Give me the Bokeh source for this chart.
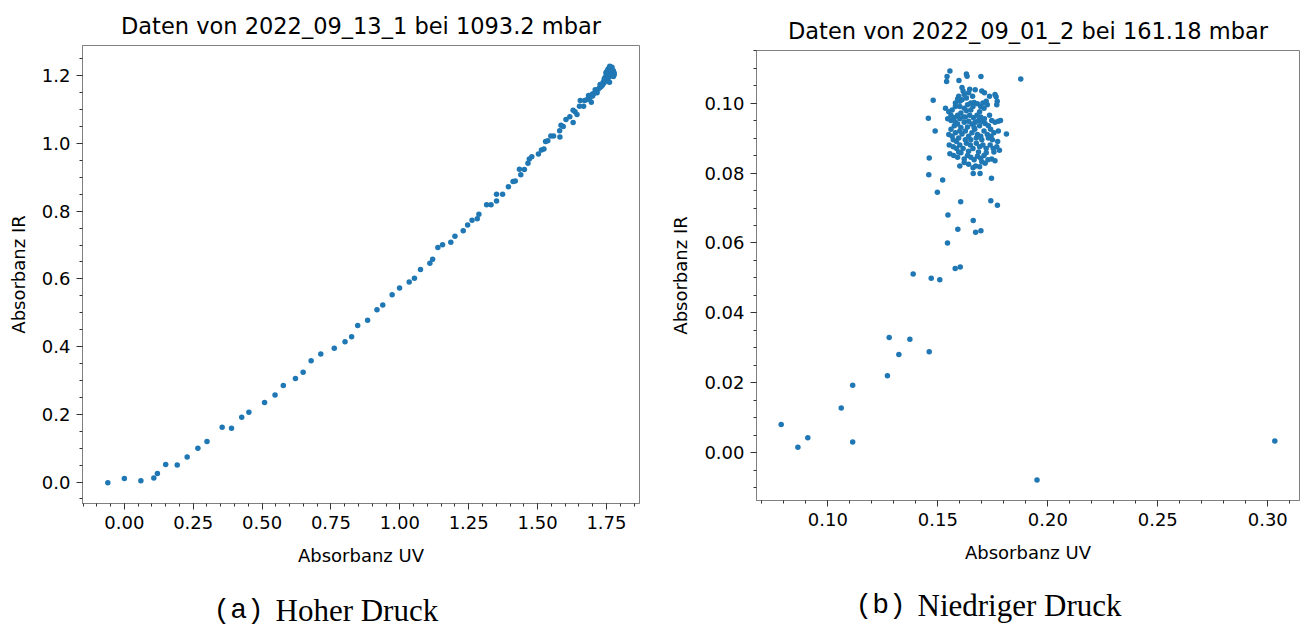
from bokeh.plotting import figure
from bokeh.layouts import row, column
from bokeh.models import FixedTicker, PrintfTickFormatter, Range1d
from bokeh.core.properties import value
from bokeh.embed import file_html
from bokeh.resources import INLINE

# ---------------- data: high pressure (left) ----------------
hoch_uv = [-0.060, 0.000, 0.060, 0.107, 0.120, 0.150, 0.192, 0.228, 0.267, 0.300,
           0.355, 0.389, 0.426, 0.452, 0.509, 0.547, 0.577, 0.621, 0.649, 0.678,
           0.713, 0.762, 0.801, 0.825, 0.847, 0.883, 0.917, 0.938, 0.972, 0.999,
           1.034, 1.053, 1.075, 1.109, 1.119, 1.138, 1.155, 1.185, 1.200, 1.230,
           1.246, 1.262, 1.281, 1.287, 1.315, 1.331, 1.351, 1.351, 1.373, 1.394,
           1.411, 1.419, 1.434, 1.439, 1.452, 1.465, 1.470, 1.479, 1.503, 1.514,
           1.523, 1.529, 1.537, 1.548, 1.558, 1.581, 1.580, 1.585, 1.593, 1.603,
           1.617, 1.629, 1.629, 1.636, 1.643, 1.655, 1.652, 1.667, 1.671, 1.685,
           1.695, 1.699, 1.709, 1.716, 1.727, 1.738, 1.743, 1.750, 1.757, 1.764,
           1.771, 1.778, 1.761,
           1.745, 1.750, 1.755, 1.760, 1.765, 1.768, 1.760, 1.755, 1.770, 1.772,
           1.775, 1.765, 1.758, 1.750, 1.745, 1.740, 1.735, 1.730, 1.725, 1.720,
           1.712, 1.705, 1.700, 1.690, 1.680, 1.770, 1.762, 1.775, 1.778, 1.752,
           1.748, 1.742]
hoch_ir = [-0.002, 0.010, 0.004, 0.012, 0.025, 0.052, 0.050, 0.074, 0.100, 0.120,
           0.162, 0.159, 0.191, 0.206, 0.235, 0.257, 0.285, 0.306, 0.324, 0.358,
           0.378, 0.395, 0.414, 0.429, 0.462, 0.478, 0.509, 0.523, 0.553, 0.573,
           0.591, 0.602, 0.628, 0.646, 0.658, 0.693, 0.701, 0.708, 0.726, 0.742,
           0.759, 0.773, 0.778, 0.791, 0.819, 0.819, 0.830, 0.850, 0.850, 0.872,
           0.888, 0.889, 0.924, 0.908, 0.923, 0.942, 0.954, 0.961, 0.969, 0.981,
           0.984, 1.006, 1.008, 1.022, 1.022, 1.019, 1.038, 1.054, 1.050, 1.071,
           1.079, 1.062, 1.098, 1.094, 1.086, 1.127, 1.110, 1.110, 1.127, 1.142,
           1.122, 1.146, 1.159, 1.150, 1.174, 1.181, 1.191, 1.211, 1.221, 1.226,
           1.206, 1.203, 1.181,
           1.195, 1.200, 1.205, 1.210, 1.215, 1.220, 1.222, 1.218, 1.212, 1.205,
           1.198, 1.200, 1.195, 1.188, 1.183, 1.178, 1.172, 1.168, 1.165, 1.160,
           1.152, 1.148, 1.140, 1.135, 1.130, 1.225, 1.228, 1.215, 1.208, 1.212,
           1.208, 1.190]

# ---------------- data: low pressure (right) ----------------
niedrig_uv = [0.0788, 0.0864, 0.0909, 0.1061, 0.1113, 0.1113, 0.1271, 0.1279, 0.1323, 0.1373,
              0.1461, 0.1951, 0.3032, 0.1388, 0.1470, 0.1509, 0.1579, 0.1602, 0.1544, 0.1591,
              0.1672, 0.1696, 0.1661, 0.1546, 0.1604, 0.1741, 0.1771, 0.1498, 0.1522, 0.1459,
              0.1461, 0.1744, 0.1661, 0.1692, 0.1457, 0.1479, 0.1488, 0.1877, 0.1812, 0.1555,
              0.1542, 0.1540, 0.1630, 0.1633, 0.1696, 0.1596,
              0.1535, 0.1550, 0.1565, 0.1580, 0.1545, 0.1560, 0.1575, 0.1590, 0.1605, 0.1620,
              0.1635, 0.1650, 0.1665, 0.1680, 0.1695, 0.1710, 0.1725, 0.1600, 0.1610, 0.1595,
              0.1620, 0.1640, 0.1645, 0.1630, 0.1658, 0.1670, 0.1700, 0.1712, 0.1735, 0.1760,
              0.1765, 0.1770, 0.1768, 0.1610, 0.1615, 0.1560, 0.1575, 0.1590, 0.1605, 0.1620,
              0.1640, 0.1655, 0.1670, 0.1685, 0.1700, 0.1715, 0.1730, 0.1745, 0.1760, 0.1775,
              0.1785, 0.1550, 0.1565, 0.1580, 0.1595, 0.1610, 0.1625, 0.1640, 0.1655, 0.1668,
              0.1680, 0.1695, 0.1710, 0.1725, 0.1740, 0.1755, 0.1552, 0.1570, 0.1585, 0.1600,
              0.1615, 0.1630, 0.1648, 0.1660, 0.1675, 0.1690, 0.1705, 0.1720, 0.1738, 0.1752,
              0.1768, 0.1780, 0.1555, 0.1572, 0.1590, 0.1605, 0.1620, 0.1635, 0.1650, 0.1665,
              0.1680, 0.1695, 0.1710, 0.1728, 0.1745, 0.1760, 0.1600, 0.1640, 0.1660, 0.1672,
              0.1690, 0.1715, 0.1560, 0.1580, 0.1600, 0.1625, 0.1645, 0.1662, 0.1678, 0.1695,
              0.1712, 0.1735, 0.1580, 0.1590, 0.1600, 0.1630, 0.1650, 0.1690, 0.1705, 0.1720,
              0.1585, 0.1595, 0.1625, 0.1650, 0.1675, 0.1700, 0.1730, 0.1748, 0.1600, 0.1635,
              0.1665, 0.1690, 0.1640, 0.1685, 0.1720, 0.1755, 0.1615, 0.1570, 0.1660, 0.1620,
              0.1700, 0.1742, 0.1772, 0.1775]
niedrig_ir = [0.0081, 0.0016, 0.0043, 0.0128, 0.0193, 0.0031, 0.0220, 0.0330, 0.0281, 0.0325,
              0.0289, -0.0078, 0.0034, 0.0511, 0.0499, 0.0495, 0.0527, 0.0531, 0.0600, 0.0639,
              0.0631, 0.0635, 0.0664, 0.0680, 0.0718, 0.0721, 0.0708, 0.0745, 0.0780, 0.0795,
              0.0843, 0.0785, 0.0799, 0.0799, 0.0957, 0.1008, 0.0920, 0.1069, 0.0912, 0.1092,
              0.1076, 0.1062, 0.1083, 0.1077, 0.1076, 0.1065,
              0.0985, 0.0975, 0.0980, 0.0990, 0.0955, 0.0950, 0.0958, 0.0965, 0.0972, 0.0985,
              0.0995, 0.1000, 0.1002, 0.0998, 0.0990, 0.0985, 0.0995, 0.1005, 0.1010, 0.1020,
              0.1025, 0.1030, 0.1040, 0.1015, 0.1020, 0.1038, 0.1035, 0.1030, 0.1020, 0.1025,
              0.1018, 0.1005, 0.0995, 0.1045, 0.1035, 0.0925, 0.0935, 0.0940, 0.0930, 0.0945,
              0.0948, 0.0940, 0.0945, 0.0950, 0.0948, 0.0942, 0.0935, 0.0950, 0.0945, 0.0948,
              0.0950, 0.0910, 0.0905, 0.0915, 0.0900, 0.0912, 0.0920, 0.0905, 0.0915, 0.0925,
              0.0910, 0.0905, 0.0920, 0.0910, 0.0925, 0.0915, 0.0880, 0.0875, 0.0890, 0.0880,
              0.0870, 0.0885, 0.0880, 0.0870, 0.0885, 0.0875, 0.0880, 0.0870, 0.0880, 0.0870,
              0.0875, 0.0865, 0.0855, 0.0850, 0.0845, 0.0858, 0.0840, 0.0850, 0.0845, 0.0838,
              0.0848, 0.0842, 0.0850, 0.0838, 0.0840, 0.0835, 0.0820, 0.0825, 0.0815, 0.0820,
              0.0818, 0.0828, 0.0965, 0.0945, 0.0955, 0.0960, 0.0965, 0.0958, 0.0965, 0.0960,
              0.0955, 0.0965, 0.1000, 0.1012, 0.0990, 0.0978, 0.0980, 0.0975, 0.1000, 0.1005,
              0.0870, 0.0860, 0.0895, 0.0895, 0.0900, 0.0895, 0.0900, 0.0895, 0.0920, 0.0932,
              0.0930, 0.0935, 0.0862, 0.0860, 0.0858, 0.0860, 0.0960, 0.0895, 0.0990, 0.0830,
              0.0832, 0.0905, 0.0890, 0.0920]

# ---------------- ticks and labels ----------------
hoch_x_ticks = [0.0, 0.25, 0.5, 0.75, 1.0, 1.25, 1.5, 1.75]
hoch_y_ticks = [0.0, 0.2, 0.4, 0.6, 0.8, 1.0, 1.2]
niedrig_x_ticks = [0.10, 0.15, 0.20, 0.25, 0.30]
niedrig_y_ticks = [0.00, 0.02, 0.04, 0.06, 0.08, 0.10]

title_a = "Daten von 2022_09_13_1 bei 1093.2 mbar"
title_b = "Daten von 2022_09_01_2 bei 161.18 mbar"
tag_a, caption_a = "(a)", "Hoher Druck"
tag_b, caption_b = "(b)", "Niedriger Druck"
x_label = "Absorbanz UV"
y_label = "Absorbanz IR"

BLUE = "#1f77b4"
FONT = "DejaVu Sans"
H = 627


def minor_list(lo, hi, step):
    n0 = int(round(lo / step)) - 1
    n1 = int(round(hi / step)) + 1
    return [round(k * step, 6) for k in range(n0, n1 + 1) if lo <= k * step <= hi]


def padded(vals):
    lo, hi = min(vals), max(vals)
    m = 0.05 * (hi - lo)
    return lo - m, hi + m


def text_fig(width, height, fw):
    # the frame of this strip is aligned with the plot frame of its column
    f = figure(width=width, height=height, output_backend="svg", toolbar_location=None,
               x_range=Range1d(0, fw), y_range=Range1d(0, height),
               x_axis_location=None, y_axis_location=None, title=None,
               min_border=0, outline_line_color=None,
               background_fill_color="white", border_fill_color="white")
    f.grid.visible = False
    return f


def make_panel(xs, ys, title, tag, caption, xt, yt, xminor, yminor, xfmt, yfmt,
               width, bl, br, top_h, frame_h, bottom_b, title_y, cap_y, tag_x, cap_x):
    x0, x1 = padded(xs)
    y0, y1 = padded(ys)
    fw = width - bl - br
    cap_h = H - top_h - frame_h - bottom_b

    # title strip
    t = text_fig(width, top_h, fw)
    t.text(x=[fw / 2], y=[top_h - title_y], text=[title], text_align="center",
           text_baseline="middle", text_font=value(FONT), text_font_size="22.5px",
           text_color="black")

    p = figure(width=width, height=frame_h + bottom_b, output_backend="svg",
               toolbar_location=None, title=None,
               x_range=Range1d(x0, x1), y_range=Range1d(y0, y1),
               min_border_left=bl, min_border_right=br, min_border_top=0,
               min_border_bottom=bottom_b, background_fill_color="white",
               border_fill_color="white")
    p.scatter(xs, ys, size=5.5, color=BLUE, line_color=None)
    p.xgrid.visible = False
    p.ygrid.visible = False
    p.outline_line_color = "#808080"
    p.outline_line_width = 1

    p.xaxis.ticker = FixedTicker(ticks=xt, minor_ticks=minor_list(x0, x1, xminor))
    p.yaxis.ticker = FixedTicker(ticks=yt, minor_ticks=minor_list(y0, y1, yminor))
    p.xaxis.formatter = PrintfTickFormatter(format=xfmt)
    p.yaxis.formatter = PrintfTickFormatter(format=yfmt)
    p.xaxis.axis_label = x_label
    p.yaxis.axis_label = y_label
    for ax in (p.xaxis, p.yaxis):
        ax.axis_line_color = "#808080"
        ax.major_tick_line_color = "#333333"
        ax.minor_tick_line_color = "#333333"
        ax.major_tick_out = 6
        ax.major_tick_in = 0
        ax.minor_tick_out = 3
        ax.minor_tick_in = 0
        ax.major_label_text_font = FONT
        ax.major_label_text_font_size = "18px"
        ax.major_label_text_color = "black"
        ax.axis_label_text_font = FONT
        ax.axis_label_text_font_size = "18px"
        ax.axis_label_text_font_style = "normal"
        ax.axis_label_text_color = "black"
    p.xaxis.major_label_standoff = 6
    p.xaxis.axis_label_standoff = 13
    p.yaxis.major_label_standoff = 6
    p.yaxis.axis_label_standoff = 10

    # caption strip ("(x)" in typewriter, text in serif)
    c = text_fig(width, cap_h, fw)
    c.text(x=[tag_x - bl], y=[cap_h - cap_y], text=[tag], text_align="left",
           text_baseline="middle", text_font=value("Liberation Mono"),
           text_font_size="28px", text_color="black")
    c.text(x=[cap_x - bl], y=[cap_h - cap_y], text=[caption], text_align="left",
           text_baseline="middle", text_font=value("Liberation Serif"),
           text_font_size="31px", text_color="black")
    return column(t, p, c, spacing=0)


left = make_panel(hoch_uv, hoch_ir, title_a, tag_a, caption_a, hoch_x_ticks, hoch_y_ticks,
                  0.05, 0.05, "%.2f", "%.1f", 650, 82, 11,
                  45, 458, 72, 25, 35, 213, 275)
right = make_panel(niedrig_uv, niedrig_ir, title_b, tag_b, caption_b, niedrig_x_ticks,
                   niedrig_y_ticks, 0.01, 0.005, "%.2f", "%.2f", 651, 106, 2,
                   50, 450, 75, 30, 30, 205, 267)

layout = row(left, right, spacing=0)
open("out.html", "w").write(file_html(layout, INLINE))
